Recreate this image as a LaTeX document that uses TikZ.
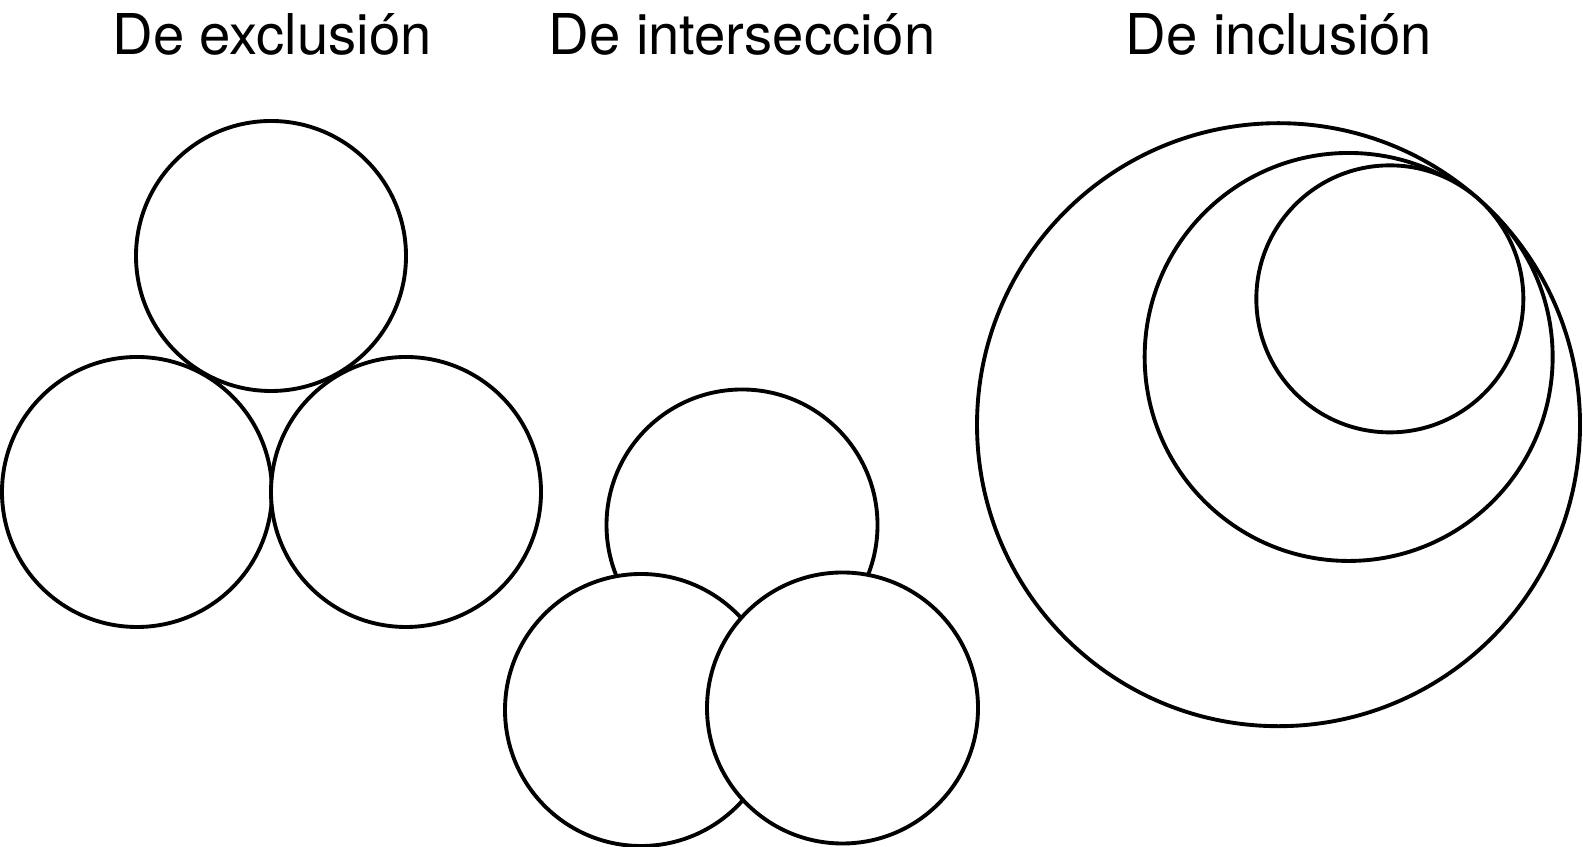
\documentclass[tikz,border=0pt]{standalone}
\usepackage{fontspec}
\setmainfont{TeX Gyre Heros}
\usetikzlibrary{positioning,calc}

\begin{document}
\begin{tikzpicture}[
  ring/.style={circle,draw,line width=1.1pt,fill=white,inner sep=0pt},
  ttl/.style={font=\fontsize{16}{19}\selectfont,anchor=base}
]
  \useasboundingbox (0,0) rectangle (15.83,8.47);

  % Titles
  \node[ttl] (tExc) at (2.72,7.92) {De exclusión};
  \node[ttl] (tInt) at (7.42,7.92) {De intersección};
  \node[ttl] (tInc) at (12.79,7.92) {De inclusión};

  % Exclusion
  \node[ring,minimum size=2.70cm] (exTop) at (2.71,5.91) {};
  \node[ring,minimum size=2.70cm] (exLeft) at (1.37,3.55) {};
  \node[ring,minimum size=2.70cm] (exRight) at (4.06,3.55) {};

  % Intersection
  \node[ring,minimum size=2.71cm] (inTop) at (7.42,3.22) {};
  \node[ring,minimum size=2.72cm] (inLeft) at (6.41,1.37) {};
  \node[ring,minimum size=2.71cm] (inRight) at (8.425,1.39) {};

  % Inclusion
  \node[ring,minimum size=6.03cm] (big) at (12.785,4.223) {};
  \node[ring,minimum size=4.08cm] (mid) at ($(big.center)+(44:0.975)$) {};
  \node[ring,minimum size=2.67cm] (small) at ($(big.center)+(48.5:1.68)$) {};
\end{tikzpicture}
\end{document}
